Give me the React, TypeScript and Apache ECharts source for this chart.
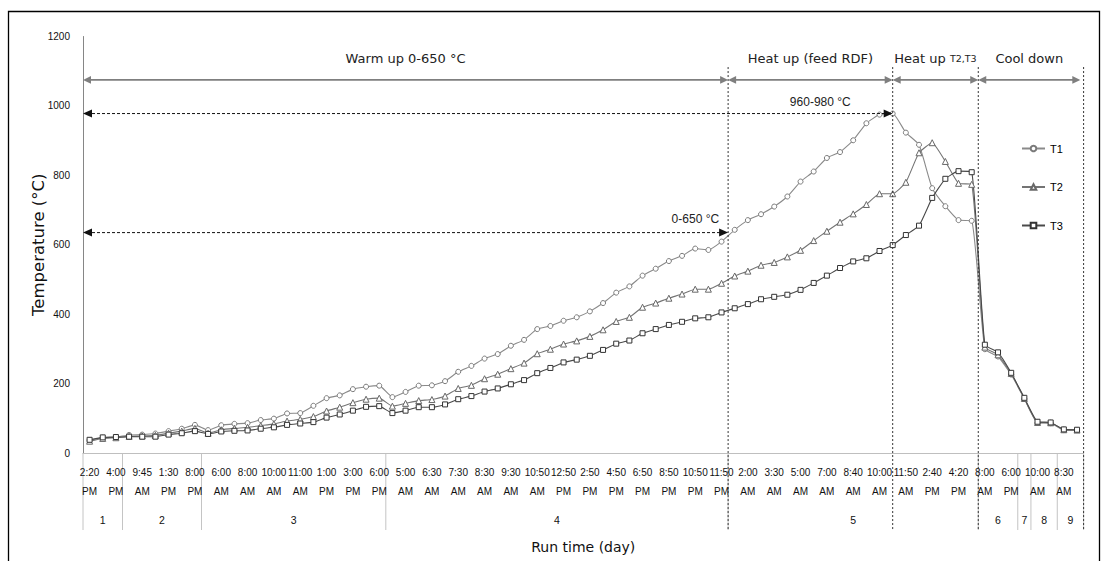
import { useEffect, useRef } from 'react';
import * as echarts from 'echarts';

// Clock-time labels, shown on every other sampling point (line 1 time, line 2 AM/PM)
const timeLabels = [
  '2:20\nPM', '4:00\nPM',
  '9:45\nAM', '1:30\nPM', '8:00\nPM',
  '6:00\nAM', '8:00\nAM', '10:00\nAM', '11:00\nAM', '1:00\nPM', '3:00\nPM', '6:00\nPM',
  '5:00\nAM', '6:30\nAM', '7:30\nAM', '8:30\nAM', '9:30\nAM', '10:50\nAM', '12:50\nPM',
  '2:50\nPM', '4:50\nPM', '6:50\nPM', '8:50\nPM', '10:50\nPM', '11:50\nPM',
  '2:00\nAM', '3:30\nAM', '5:00\nAM', '7:00\nAM', '8:40\nAM', '10:00\nAM', '11:50\nAM',
  '2:40\nPM', '4:20\nPM',
  '8:00\nAM', '6:00\nPM',
  '10:00\nAM',
  '8:30\nAM',
];

// Run days and the sampling-point index where each day starts (last entry = end)
const dayNames = ['1', '2', '3', '4', '5', '6', '7', '8', '9'];
const dayBounds = [0, 3, 9, 23, 49, 68, 71, 72, 74, 76];

// Thermocouple readings (°C)
const t1 = [
  37, 44, 46, 52, 53, 56, 63, 70, 81, 66,
  80, 84, 86, 95, 99, 114, 115, 136, 158, 166,
  184, 191, 194, 161, 176, 194, 195, 207, 234, 251,
  272, 285, 309, 326, 357, 366, 381, 391, 408, 432,
  462, 480, 511, 531, 553, 568, 589, 585, 609, 643,
  671, 688, 710, 739, 782, 811, 850, 867, 901, 950,
  975, 978, 923, 888, 763, 711, 671, 669, 299, 278,
  226, 156, 87, 86, 66, 66,
];
const t2 = [
  34, 42, 44, 48, 49, 51, 57, 63, 71, 57,
  67, 71, 74, 79, 84, 92, 97, 105, 121, 132,
  145, 155, 158, 135, 143, 151, 154, 164, 186, 195,
  214, 227, 243, 259, 286, 299, 314, 323, 336, 355,
  379, 391, 420, 432, 446, 458, 472, 472, 489, 510,
  524, 541, 549, 565, 584, 612, 639, 665, 689, 716,
  747, 747, 780, 865, 894, 840, 777, 774, 305, 283,
  229, 157, 88, 87, 67, 66,
];
const t3 = [
  38, 45, 46, 47, 47, 47, 53, 57, 63, 55,
  62, 64, 65, 70, 74, 81, 85, 89, 102, 111,
  122, 133, 135, 115, 122, 132, 132, 140, 155, 164,
  177, 186, 198, 210, 230, 245, 261, 269, 280, 297,
  315, 324, 345, 357, 369, 378, 388, 391, 405, 417,
  429, 443, 450, 456, 470, 490, 511, 533, 552, 561,
  582, 599, 628, 655, 735, 790, 812, 809, 312, 290,
  231, 159, 90, 88, 68, 67,
];

// Run phases along the time axis (positions in sampling-point units)
const phases = [
  { from: 0, to: 49, name: 'Warm up 0-650 °C' },
  { from: 49, to: 61.5, name: 'Heat up (feed RDF)' },
  { from: 61.5, to: 68, name: 'Heat up', sub: 'T2,T3' },
  { from: 68, to: 75.75, name: 'Cool down' },
];

// Temperature target bands
const targetBands = [
  { to: 61.5, level: 978, label: '960-980 °C' },
  { to: 49, level: 635, label: '0-650 °C' },
];

const phaseMarkers = [49, 61.5, 68, 76];

const NUM_FONT = "'Liberation Sans', Arial, sans-serif";
const TITLE_FONT = "'DejaVu Sans', Verdana, sans-serif";

const categories = t1.map((_, i) => (i % 2 === 0 ? timeLabels[i / 2] : ''));

function buildOption(): echarts.EChartsOption {
  const seriesStyle = [
    { name: 'T1', data: t1, symbol: 'circle', size: 5, line: '#8a8a8a', mark: '#7a7a7a' },
    { name: 'T2', data: t2, symbol: 'triangle', size: 6, line: '#747474', mark: '#686868' },
    { name: 'T3', data: t3, symbol: 'rect', size: 5, line: '#4a4a4a', mark: '#333333' },
  ];
  return {
    animation: false,
    backgroundColor: '#ffffff',
    textStyle: { fontFamily: NUM_FONT },
    grid: { left: 83, right: 18.4, top: 36.5, bottom: 108, containLabel: false },
    legend: {
      orient: 'vertical',
      left: 1021,
      top: 143,
      padding: 0,
      itemWidth: 23,
      itemHeight: 7,
      itemGap: 27.5,
      textStyle: { fontSize: 11, color: '#000', fontFamily: NUM_FONT },
      data: ['T1', 'T2', 'T3'],
    },
    xAxis: {
      type: 'category',
      data: categories,
      boundaryGap: true,
      axisLine: { show: true, lineStyle: { color: '#bfbfbf', width: 1 } },
      axisTick: { show: false },
      splitLine: { show: false },
      axisLabel: {
        interval: 0,
        fontSize: 10,
        lineHeight: 19,
        margin: 10,
        color: '#111',
        fontFamily: NUM_FONT,
      },
      name: 'Run time (day)',
      nameLocation: 'middle',
      nameGap: 87,
      nameMoveOverlap: false,
      nameTextStyle: { fontSize: 14, color: '#111', fontFamily: TITLE_FONT },
    } as any,
    yAxis: {
      type: 'value',
      min: 0,
      max: 1200,
      interval: 200,
      axisLine: { show: true, lineStyle: { color: '#868686', width: 1 } },
      axisTick: { show: false },
      splitLine: { show: false },
      axisLabel: {
        fontSize: 10,
        color: '#111',
        margin: 13,
        fontFamily: NUM_FONT,
        formatter: (v: number) => String(v),
      },
      name: 'Temperature (°C)',
      nameLocation: 'middle',
      nameGap: 36,
      nameMoveOverlap: false,
      nameTextStyle: { fontSize: 16.5, color: '#111', fontFamily: TITLE_FONT },
    } as any,
    series: seriesStyle.map((s) => ({
      name: s.name,
      type: 'line',
      data: s.data,
      smooth: 0.15,
      symbol: s.symbol,
      symbolSize: s.size,
      showAllSymbol: true,
      lineStyle: { color: s.line, width: 1.1 },
      itemStyle: { color: '#ffffff', borderColor: s.mark, borderWidth: 1 },
      emphasis: { disabled: true },
    })),
  };
}

function buildAnnotations(chart: echarts.ECharts) {
  const c0 = chart.convertToPixel({ xAxisIndex: 0 }, 0) as number;
  const c1 = chart.convertToPixel({ xAxisIndex: 0 }, 1) as number;
  const bw = c1 - c0;
  const xAt = (p: number) => c0 + (p - 0.5) * bw;
  const yAt = (v: number) => chart.convertToPixel({ yAxisIndex: 0 }, v) as number;
  const y0 = yAt(0);
  const els: any[] = [];

  const head = (x: number, y: number, dir: number, len: number, half: number, fill: string) => ({
    type: 'polygon',
    silent: true,
    z: 10,
    shape: { points: [[x, y], [x - dir * len, y - half], [x - dir * len, y + half]] },
    style: { fill },
  });

  // outer frame
  els.push({
    type: 'rect',
    silent: true,
    shape: { x: 8.5, y: 11.5, width: 1091, height: 560 },
    style: { fill: 'none', stroke: '#000', lineWidth: 1.3 },
  });

  // day group separators and day numbers under the time labels
  dayBounds.forEach((b) => {
    els.push({
      type: 'line',
      silent: true,
      shape: { x1: xAt(b), y1: y0, x2: xAt(b), y2: y0 + 77 },
      style: { stroke: '#c4c4c4', lineWidth: 1 },
    });
  });
  dayNames.forEach((d, i) => {
    els.push({
      type: 'text',
      silent: true,
      x: xAt((dayBounds[i] + dayBounds[i + 1]) / 2),
      y: y0 + 67,
      style: {
        text: d, fill: '#111', fontSize: 10.5, fontFamily: NUM_FONT,
        align: 'center', verticalAlign: 'middle', textAlign: 'center', textVerticalAlign: 'middle',
      },
    });
  });

  // phase boundaries
  const topY = yAt(1112);
  phaseMarkers.forEach((p) => {
    els.push({
      type: 'line',
      silent: true,
      z: 5,
      shape: { x1: xAt(p), y1: topY, x2: xAt(p), y2: y0 + 77 },
      style: { stroke: '#333', lineWidth: 1, lineDash: [2, 2] },
    });
  });

  // phase arrows and names
  const arrowY = yAt(1075);
  const nameY = yAt(1138);
  phases.forEach((ph) => {
    const xa = xAt(ph.from);
    const xb = xAt(ph.to);
    els.push({
      type: 'line',
      silent: true,
      shape: { x1: xa + 2, y1: arrowY, x2: xb - 2, y2: arrowY },
      style: { stroke: '#7f7f7f', lineWidth: 1.6 },
    });
    els.push(head(xa, arrowY, -1, 8, 3.8, '#7f7f7f'));
    els.push(head(xb, arrowY, 1, 8, 3.8, '#7f7f7f'));
    const text = ph.sub ? `{a|${ph.name} }{b|${ph.sub}}` : `{a|${ph.name}}`;
    els.push({
      type: 'text',
      silent: true,
      x: (xa + xb) / 2,
      y: nameY,
      style: {
        text,
        fill: '#222',
        align: 'center', verticalAlign: 'middle', textAlign: 'center', textVerticalAlign: 'middle',
        rich: {
          a: { fontSize: 13, fontFamily: TITLE_FONT, fill: '#222', color: '#222' },
          b: { fontSize: 9.5, fontFamily: TITLE_FONT, fill: '#222', color: '#222' },
        },
      },
    });
  });

  // target temperature bands (dashed double arrows from the axis)
  targetBands.forEach((tb, k) => {
    const ly = yAt(tb.level);
    const xa = xAt(0);
    const xb = xAt(tb.to);
    els.push({
      type: 'line',
      silent: true,
      z: 10,
      shape: { x1: xa + 4, y1: ly, x2: xb - 4, y2: ly },
      style: { stroke: '#111', lineWidth: 1, lineDash: [3, 2] },
    });
    els.push(head(xa, ly, -1, 9, 4, '#111'));
    els.push(head(xb, ly, 1, 9, 4, '#111'));
    const tx = k === 0 ? xAt(56) : xb - 9;
    els.push({
      type: 'text',
      silent: true,
      z: 10,
      x: tx,
      y: ly - (k === 0 ? 11.5 : 13.5),
      style: {
        text: tb.label,
        fill: '#222',
        fontSize: 12,
        fontFamily: NUM_FONT,
        align: k === 0 ? 'center' : 'right',
        textAlign: k === 0 ? 'center' : 'right',
        verticalAlign: 'middle',
        textVerticalAlign: 'middle',
      },
    });
  });

  return els;
}

export default function App() {
  const ref = useRef<HTMLDivElement>(null);
  useEffect(() => {
    document.body.style.margin = '0';
    document.body.style.overflow = 'hidden';
    const chart = echarts.init(ref.current!, null, { renderer: 'svg' });
    chart.setOption(buildOption());
    chart.setOption({ graphic: { elements: buildAnnotations(chart) } });
    return () => chart.dispose();
  }, []);
  return <div ref={ref} style={{ width: 1102, height: 561 }} />;
}
